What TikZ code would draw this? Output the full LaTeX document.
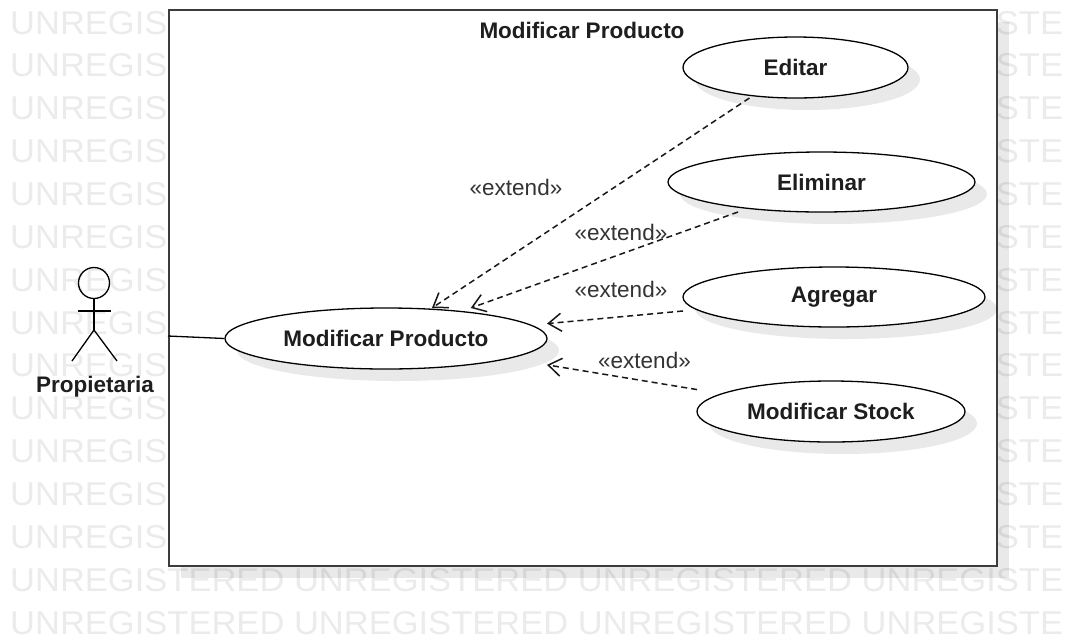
\documentclass[tikz,border=0pt]{standalone}
\usepackage{fontspec}
\setmainfont{Liberation Sans}
\usetikzlibrary{shapes.geometric,arrows.meta,shadows}
\definecolor{wmark}{HTML}{EBEBEB}
\definecolor{ink}{HTML}{1E1E1E}
\definecolor{frame}{HTML}{3C3C3C}
\definecolor{note}{HTML}{333333}

\begin{document}
\begin{tikzpicture}[x=1pt,y=-1pt,
  softshadow/.style={drop shadow={shadow xshift=12pt,shadow yshift=-12pt,fill=black,opacity=0.085}},
  usecase/.style={ellipse,draw=black,line width=1.3pt,fill=white,inner sep=0pt,
    font=\fontsize{22.5}{26}\selectfont\bfseries,text=ink,softshadow},
  % rectangular frame of a use case, where the extend lines attach
  ucframe/.style={rectangle,inner sep=0pt,outer sep=0pt},
  extend/.style={draw=black!90,line width=1.5pt,dash pattern=on 6pt off 4pt,
    -{Straight Barb[length=13pt,width=18pt]}},
  stereo/.style={font=\fontsize{22.5}{26}\selectfont,text=note,inner sep=0pt,anchor=base},
  wm/.style={anchor=base west,inner sep=0pt,text=wmark,font=\fontsize{33}{36}\selectfont},
  stick/.style={draw=black,line width=1.3pt},
]
\useasboundingbox (0,0) rectangle (1072,641);

% background watermark rows
\foreach \i in {0,...,14}
  \node[wm] (wm\i) at (10,{34+42.86*\i})
    {\scalebox{1.046}[1]{UNREGISTERED UNREGISTERED UNREGISTERED UNREGISTE}};

% system boundary
\node[draw=frame,line width=1.5pt,fill=white,inner sep=0pt,
      minimum width=828pt,minimum height=556pt,anchor=north west,softshadow]
      (sys) at (168,9) {};
\node[font=\fontsize{22.5}{26}\selectfont\bfseries,text=ink,inner sep=0pt]
      (title) at (582,30) {Modificar Producto};

% actor
\coordinate (actor) at (94,283);
\draw[stick] (actor) circle[radius=15.5];
\draw[stick] (94,298.5) -- (94,330);
\draw[stick] (78,311) -- (111,311);
\draw[stick] (72,361) -- (94,330) -- (117,361);
\node[font=\fontsize{22.5}{26}\selectfont\bfseries,text=ink,inner sep=0pt,anchor=base]
      (actorname) at (95,392) {Propietaria};

% use cases
\node[usecase,minimum width=322pt,minimum height=61pt] (mp)    at (386,338.5) {Modificar Producto};
\node[usecase,minimum width=225pt,minimum height=61pt] (edit)  at (795.5,67.5) {Editar};
\node[usecase,minimum width=307pt,minimum height=60pt] (del)   at (821.5,182) {Eliminar};
\node[usecase,minimum width=302pt,minimum height=60pt] (add)   at (834,297) {Agregar};
\node[usecase,minimum width=268pt,minimum height=61pt] (stock) at (831,411.5) {Modificar Stock};

\node[ucframe,minimum width=322pt,minimum height=61pt] (mpF)    at (mp) {};
\node[ucframe,minimum width=225pt,minimum height=61pt] (editF)  at (edit) {};
\node[ucframe,minimum width=307pt,minimum height=60pt] (delF)   at (del) {};
\node[ucframe,minimum width=302pt,minimum height=60pt] (addF)   at (add) {};
\node[ucframe,minimum width=268pt,minimum height=61pt] (stockF) at (stock) {};

% association
\coordinate (link) at (168,336);
\draw[stick] (link) -- (mp.west);

% extend relations
\draw[extend] (editF)  -- (mpF);
\draw[extend] (delF)   -- (mpF);
\draw[extend] (addF)   -- (mpF);
\draw[extend] (stockF) -- (mpF);

\node[stereo] (x1) at (516,195) {«extend»};
\node[stereo] (x2) at (621,240) {«extend»};
\node[stereo] (x3) at (621,297) {«extend»};
\node[stereo] (x4) at (644.5,368) {«extend»};
\end{tikzpicture}
\end{document}
